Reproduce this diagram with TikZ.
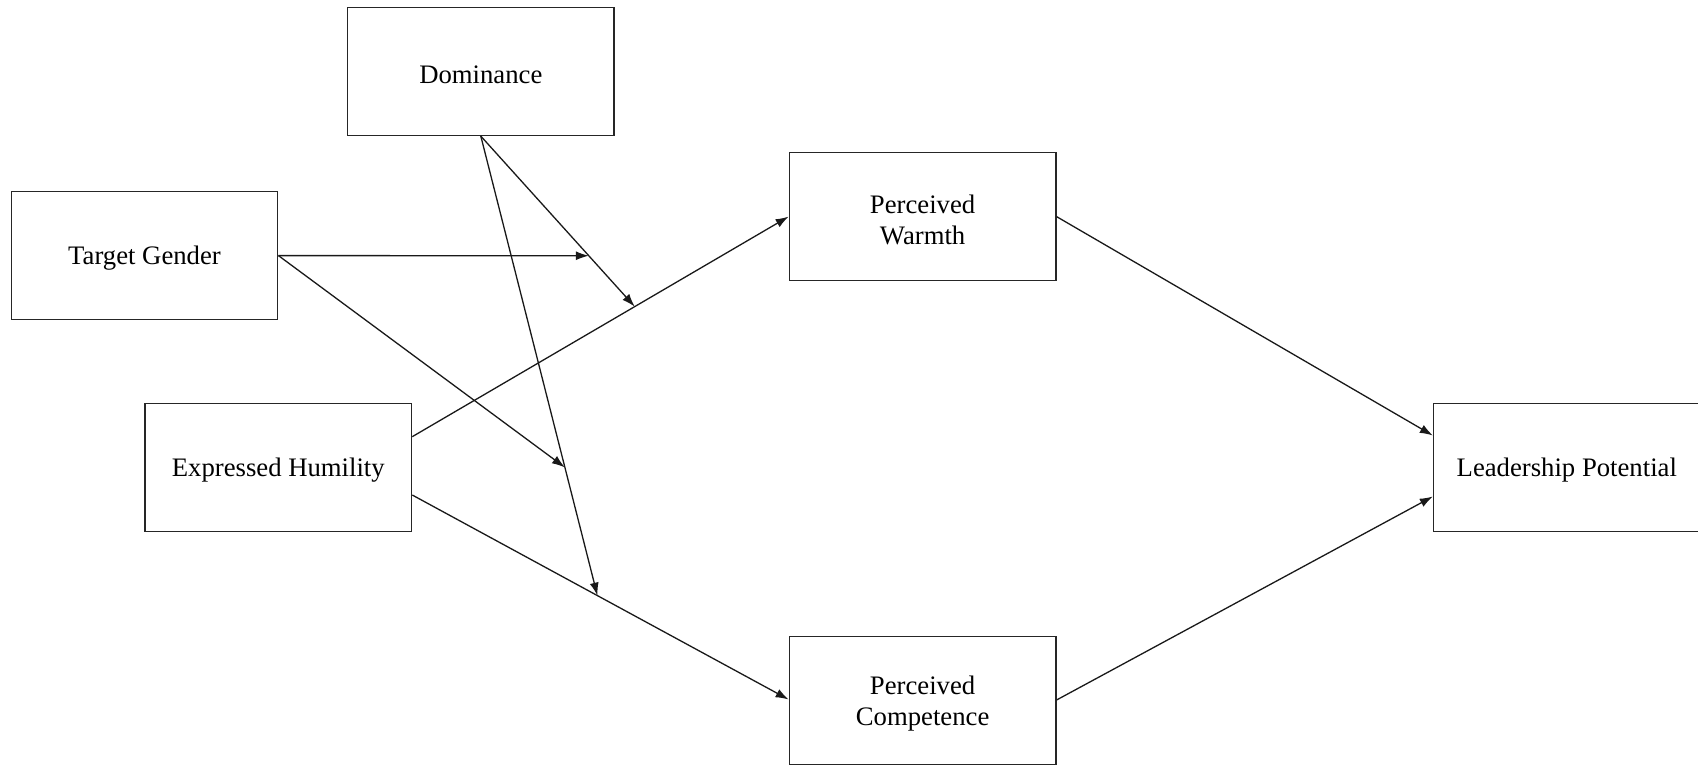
\documentclass[tikz,border=0pt]{standalone}
\usepackage{fontspec}
\setmainfont{Liberation Serif}
\usetikzlibrary{arrows.meta,calc}
\newcommand{\lift}{\rule{0pt}{24.5pt}}
\begin{document}
\begin{tikzpicture}[x=1pt,y=-1pt,
  varbox/.style={draw=black!85, line width=1.4pt, minimum width=266.5pt, minimum height=127.8pt,
    inner sep=0pt, align=center, font=\fontsize{26.7}{31}\selectfont},
  link/.style={line width=1.3pt, draw=black!90},
  arr/.style={link, -{Latex[length=13pt,width=9pt]}}]
\useasboundingbox (0,0) rectangle (1698,765);
\node[varbox] (dom) at (480.8,71.5) {\lift Dominance};
\node[varbox] (tg) at (144.5,255.6) {\lift Target Gender};
\node[varbox] (hum) at (278.3,467.5) {\lift Expressed Humility};
\node[varbox] (warm) at (922.6,216.6) {\lift Perceived\\Warmth};
\node[varbox] (comp) at (922.6,700.5) {\lift Perceived\\Competence};
\node[varbox] (lead) at (1566.8,467.5) {\lift Leadership Potential};
% anchor points
\coordinate (hw) at ([yshift=30.8pt]hum.east);
\coordinate (hc) at ([yshift=-27.5pt]hum.east);
\coordinate (lw) at ([yshift=32pt]lead.west);
\coordinate (lc) at ([yshift=-29pt]lead.west);
\coordinate (cw) at ([yshift=1pt]comp.west);
\coordinate (q1) at ($(hw)!0.591!(warm.west)$);
\coordinate (q2) at ($(hc)!0.492!(cw)$);
\coordinate (p1) at ($(dom.south)!0.7016!(q1)$);
\coordinate (p2) at ($(dom.south)!0.721!(q2)$);
% main paths
\draw[arr] (hw) -- (warm.west);
\draw[arr] (hc) -- (cw);
\draw[arr] (warm.east) -- (lw);
\draw[arr] ([yshift=0.5pt]comp.east) -- (lc);
% moderation paths
\draw[arr] (tg.east) -- (p1);
\draw[arr] (dom.south) -- (q1);
\draw[arr] (dom.south) -- (q2);
\draw[arr] (tg.east) -- (p2);
\end{tikzpicture}
\end{document}
